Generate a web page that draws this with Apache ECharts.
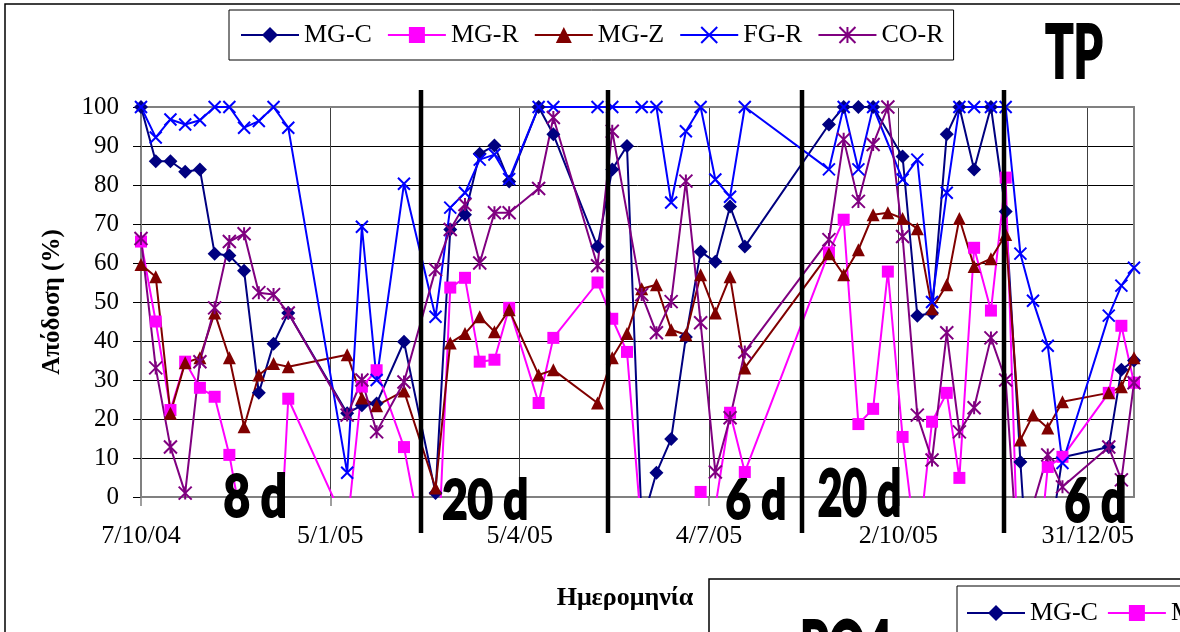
<!DOCTYPE html>
<html>
<head>
<meta charset="utf-8">
<script src="https://cdn.jsdelivr.net/npm/echarts@6/dist/echarts.min.js"></script>
<style>
html,body{margin:0;padding:0;background:#fff;}
#chart{width:1180px;height:632px;}
</style>
</head>
<body>
<div id="chart"></div>
<script>
// Sampling dates
const dates = [
  '2004-10-07','2004-10-14','2004-10-21','2004-10-28','2004-11-04','2004-11-11','2004-11-18','2004-11-25','2004-12-02','2004-12-09','2004-12-16',
  '2005-01-13','2005-01-20','2005-01-27','2005-02-09',
  '2005-02-24','2005-03-03','2005-03-10','2005-03-17','2005-03-24','2005-03-31','2005-04-14','2005-04-21','2005-05-12',
  '2005-05-19','2005-05-26','2005-06-02','2005-06-09','2005-06-16','2005-06-23','2005-06-30','2005-07-07','2005-07-14','2005-07-21',
  '2005-08-30','2005-09-06','2005-09-13','2005-09-20','2005-09-27','2005-10-04','2005-10-11','2005-10-18','2005-10-25','2005-10-31','2005-11-07','2005-11-15','2005-11-22',
  '2005-11-29','2005-12-05','2005-12-12','2005-12-19','2006-01-10','2006-01-16','2006-01-22'
];

// Removal efficiency (%) per unit; null = no measurement
const mgC = [100, 86.1, 86.1, 83.4, 84, 62.4, 61.9, 58, 26.7, 39.3, 47.2,
  21.5, 23.5, 24, 39.8,
  1, 68.6, 72.4, 88, 90.1, 80.9, 100, 93, 64.2,
  84, 90, -7, 6.2, 14.9, 41, 62.9, 60.3, 74.5, 64.2,
  95.5, 100, 100, 100, null, 87.3, 46.5, 47.2, 93, 100, 84, 100, 73.2,
  9, -40, -15, 10.2, 12.8, 32.6, 35];

const mgR = [65.5, 45, 22.3, 34.7, 28, 25.7, 10.8, -10, null, -45, 25.2,
  -8, 28.3, 32.5, 12.8,
  -30, 53.7, 56.2, 34.7, 35.2, 48.5, 24.1, 40.8, 55,
  45.7, 37.2, -9, null, null, -10, 1.3, -2.6, 21.6, 6.4,
  62.7, 71.1, 18.7, 22.6, 57.8, 15.4, -15.4, 19.3, 26.7, 4.9, 63.9, 47.8, 81.9,
  -37, -31, 7.7, 10.3, 26.7, 43.9, 29.3];

const mgZ = [59.6, 56.5, 21.5, 34.4, 35.7, 47.2, 35.7, 18, 31.3, 34.2, 33.4,
  36.5, 25.4, 23.4, 27.2,
  2.3, 39.5, 41.9, 46.2, 42.4, 48, 31.3, 32.6, 24.1,
  35.7, 41.9, 53.4, 54.4, 42.9, 41.6, 57, 47.2, 56.5, 33.1,
  62.4, 57, 63.4, 72.4, 72.9, 71.4, 68.8, 48.3, 54.4, 71.4, 59.1, 61.1, 67.3,
  14.6, 21, 17.7, 24.4, 26.7, 28.3, 35.7];

const fgR = [100, 92.2, 96.8, 95.5, 96.6, 100, 100, 94.7, 96.4, 100, 94.7,
  6.2, 69.3, 30, 80.3,
  46.2, 74.2, 78, 86.5, 87.8, 81.5, 100, 100, 100,
  100, null, 100, 100, 75.5, 93.8, 100, 81.4, 77, 100,
  84, 100, 84, 100, null, 81.4, 86.5, 50, 78, 100, 100, 100, 100,
  62.4, 50.3, 38.8, 8.7, 46.5, 54.2, 58.8];

const coR = [66.3, 33.1, 12.8, 1, 34.7, 48.5, 65.5, 67.5, 52.4, 51.9, 47.2,
  21, 30, 16.7, 29.5,
  58.3, 68.6, 75, 60, 72.9, 72.9, 79.1, 97.3, 59.3,
  93.8, null, 51.9, 42.1, 50.1, 81, 44.7, 6.4, 20.3, 37.2,
  66, 91.7, 75.8, 90.4, 100, 66.8, 21, 9.5, 42.1, 16.7, 22.9, 40.8, 30,
  -26, -2, 10.8, 2.6, 12.8, 4.4, 29.3];

const seriesNames = ['MG-C', 'MG-R', 'MG-Z', 'FG-R', 'CO-R'];
const seriesValues = [mgC, mgR, mgZ, fgR, coR];

// Boundaries between operating periods and their retention-time labels
const periodBounds = ['2005-02-17', '2005-05-17', '2005-08-17', '2005-11-21'];
const periodLabels = ['8 d', '20 d', '6 d', '20 d', '6 d'];

const axisStart = '2004-10-07';
const axisEnd = '2006-01-22';
const yTitle = 'Απόδοση (%)';
const xTitle = 'Ημερομηνία';
const chartTag = 'TP';
const nextChartTag = 'PO4';

// ---- helpers ----
const DAY = 864e5;
const origin = Date.parse(axisStart);
const toDay = s => (Date.parse(s) - origin) / DAY;
const fmtDay = v => {
  const d = new Date(origin + v * DAY);
  return d.getUTCDate() + '/' + (d.getUTCMonth() + 1) + '/' + String(d.getUTCFullYear()).slice(2);
};

const SERIF = '"Liberation Serif", "Times New Roman", serif';
const X_PATH = 'path://M0,0L10,10M10,0L0,10';
const STAR_PATH = 'path://M0,0L10,10M10,0L0,10M5,0L5,10';

const styles = {
  'MG-C': { color: '#000080', symbol: 'diamond', size: 14 },
  'MG-R': { color: '#FF00FF', symbol: 'rect', size: 12 },
  'MG-Z': { color: '#800000', symbol: 'triangle', size: 13 },
  'FG-R': { color: '#0000FF', symbol: X_PATH, size: 12, stroke: 2 },
  'CO-R': { color: '#800080', symbol: STAR_PATH, size: 13, stroke: 2 }
};

const series = seriesNames.map((name, k) => {
  const st = styles[name];
  const data = [];
  dates.forEach((d, i) => {
    const v = seriesValues[k][i];
    if (v !== null) data.push([toDay(d), v]);
  });
  return {
    name,
    type: 'line',
    data,
    symbol: st.symbol,
    symbolSize: st.size,
    showAllSymbol: true,
    clip: true,
    lineStyle: { color: st.color, width: 2 },
    itemStyle: st.stroke
      ? { color: st.color, borderColor: st.color, borderWidth: st.stroke }
      : { color: st.color, borderWidth: 0 },
    emphasis: { disabled: true },
    z: 2
  };
});

const legendItem = name => {
  const st = styles[name];
  const o = { name };
  if (st.stroke) o.itemStyle = { borderColor: st.color, borderWidth: st.stroke };
  return o;
};

const legendBase = {
  orient: 'horizontal',
  itemWidth: 58,
  itemHeight: 20,
  itemGap: 15,
  borderColor: '#000',
  borderWidth: 1,
  selectedMode: false,
  textStyle: { fontFamily: SERIF, fontSize: 26, color: '#000' }
};

const xMax = toDay(axisEnd);
const gridGray = '#808080';

const chart = echarts.init(document.getElementById('chart'), null, { renderer: 'canvas' });

const option = {
  animation: false,
  backgroundColor: '#fff',
  grid: { left: 141, right: 46, top: 107, bottom: 135, containLabel: false, outerBoundsMode: 'none' },
  legend: [
    Object.assign({}, legendBase, {
      data: seriesNames.map(legendItem),
      left: 229, top: 10,
      padding: [12, 10, 12, 11]
    }),
    Object.assign({}, legendBase, {
      data: ['MG-C', 'MG-R'].map(legendItem),
      left: 957, top: 586, width: 500,
      itemGap: 9,
      padding: [14, 10, 12, 9]
    })
  ],
  xAxis: [
    {
      type: 'value',
      min: 0, max: xMax, interval: 90,
      name: xTitle,
      nameLocation: 'middle',
      nameGap: 88,
      nameTextStyle: { fontFamily: SERIF, fontWeight: 'bold', fontSize: 26, color: '#000', padding: [0, 25, 0, 0] },
      axisLine: { onZero: false, lineStyle: { color: gridGray, width: 2 } },
      axisTick: { show: true, length: 9, lineStyle: { color: gridGray, width: 1.5 } },
      axisLabel: {
        formatter: fmtDay, showMaxLabel: false, showMinLabel: true,
        fontFamily: SERIF, fontSize: 26, color: '#000', margin: 26
      },
      splitLine: { show: true, lineStyle: { color: '#404040', width: 1 } }
    },
    {
      type: 'value', position: 'top',
      min: 0, max: xMax,
      axisLine: { show: true, onZero: false, lineStyle: { color: gridGray, width: 2 } },
      axisTick: { show: false }, axisLabel: { show: false }, splitLine: { show: false }
    }
  ],
  yAxis: [
    {
      type: 'value',
      min: 0, max: 100, interval: 10,
      name: yTitle,
      nameLocation: 'middle',
      nameRotate: 90,
      nameGap: 76,
      nameTextStyle: { fontFamily: SERIF, fontWeight: 'bold', fontSize: 25, color: '#000' },
      axisLine: { show: true, onZero: false, lineStyle: { color: gridGray, width: 2 } },
      axisTick: { show: true, length: 8, lineStyle: { color: '#000', width: 1 } },
      axisLabel: { fontFamily: SERIF, fontSize: 25, color: '#000', margin: 22 },
      splitLine: { show: true, lineStyle: { color: '#000', width: 1 } }
    },
    {
      type: 'value', position: 'right',
      min: 0, max: 100,
      axisLine: { show: true, onZero: false, lineStyle: { color: gridGray, width: 2 } },
      axisTick: { show: false }, axisLabel: { show: false }, splitLine: { show: false }
    }
  ],
  series
};

chart.setOption(option);

// ---- decorations: period separators, heavy labels, frames ----
const measureCtx = document.createElement('canvas').getContext('2d');
const HEAVY = 'Lato, Inter, Roboto, "DejaVu Sans", sans-serif';

function heavyText(str, cx, cy, w, h, z) {
  const lw = 2;
  measureCtx.textBaseline = 'middle';
  measureCtx.textAlign = 'center';
  measureCtx.font = '900 100px ' + HEAVY;
  let m = measureCtx.measureText(str);
  const fs = 100 * (h - lw) / (m.actualBoundingBoxAscent + m.actualBoundingBoxDescent);
  const font = '900 ' + fs.toFixed(1) + 'px ' + HEAVY;
  measureCtx.font = font;
  m = measureCtx.measureText(str);
  const gw = m.actualBoundingBoxLeft + m.actualBoundingBoxRight;
  const sx = (w - lw) / gw;
  return {
    type: 'text',
    x: cx - sx * (m.actualBoundingBoxRight - m.actualBoundingBoxLeft) / 2,
    y: cy - (m.actualBoundingBoxDescent - m.actualBoundingBoxAscent) / 2,
    scaleX: sx,
    z: z || 20,
    silent: true,
    style: {
      text: str, font, fill: '#000', stroke: '#000', lineWidth: lw,
      align: 'center', verticalAlign: 'middle'
    }
  };
}

const yTopPx = chart.convertToPixel({ yAxisIndex: 0 }, 100);
const yBotPx = chart.convertToPixel({ yAxisIndex: 0 }, 0);

const graphics = [];

// outer frame of this chart
graphics.push({
  type: 'rect', z: 0, silent: true,
  shape: { x: 5, y: 4, width: 1400, height: 900 },
  style: { fill: null, stroke: '#000', lineWidth: 1.5 }
});

// separators between operating periods
periodBounds.forEach(d => {
  const x = Math.round(chart.convertToPixel({ xAxisIndex: 0 }, toDay(d)));
  graphics.push({
    type: 'line', z: 15, silent: true,
    shape: { x1: x, y1: yTopPx - 17, x2: x, y2: yBotPx + 36 },
    style: { stroke: '#000', lineWidth: 4.5 }
  });
});

// retention-time labels for each period
const labelBoxes = [
  [255, 495, 62, 46],
  [484.5, 498, 85, 44],
  [755.5, 498, 59, 44],
  [859, 492, 82, 50],
  [1095, 498.5, 60, 47]
];
periodLabels.forEach((t, i) => {
  const b = labelBoxes[i];
  graphics.push(heavyText(t, b[0], b[1], b[2], b[3]));
});

// chart tag
graphics.push(heavyText(chartTag, 1074, 51, 58, 56));

// the following chart's frame, starting below
graphics.push({
  type: 'rect', z: 3, silent: true,
  shape: { x: 709, y: 579, width: 700, height: 300 },
  style: { fill: '#fff', stroke: '#000', lineWidth: 1.5 }
});
graphics.push(heavyText(nextChartTag, 847, 646, 90, 56, 21));

chart.setOption({ graphic: graphics });
</script>
</body>
</html>
